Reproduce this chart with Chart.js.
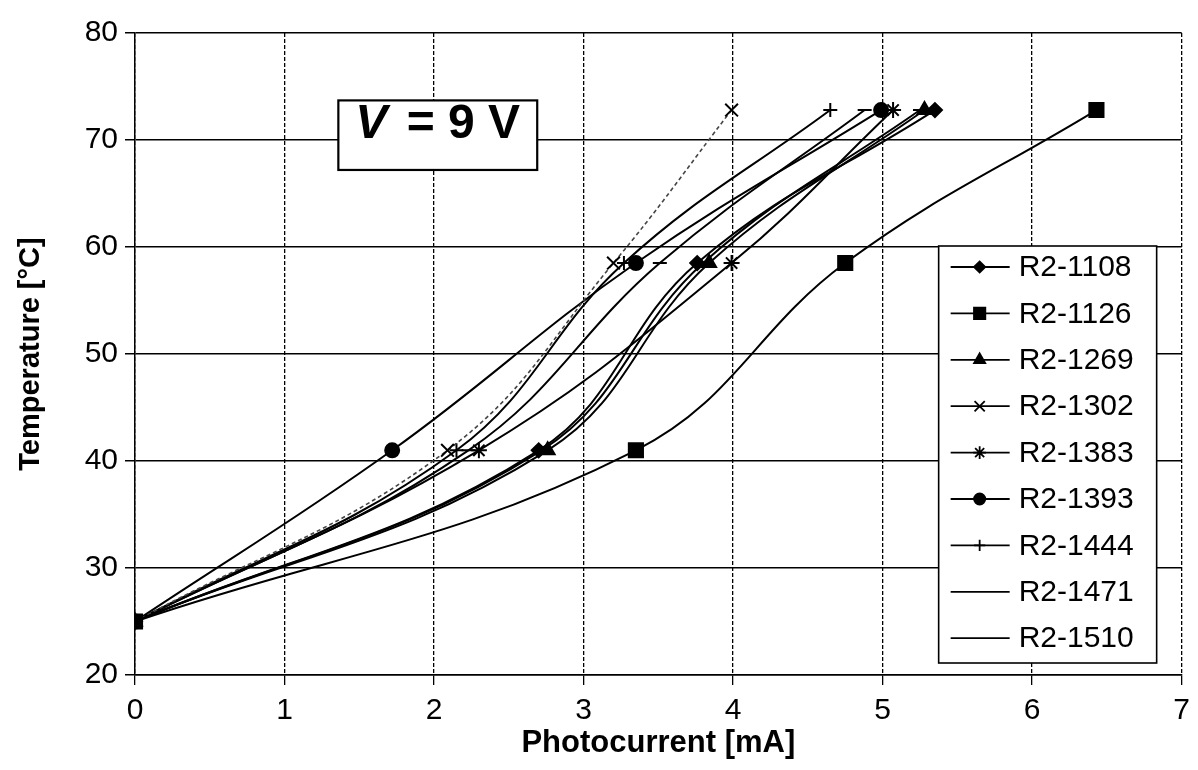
<!DOCTYPE html>
<html>
<head>
<meta charset="utf-8">
<script src="https://cdn.jsdelivr.net/npm/chart.js@4.4.0/dist/chart.umd.min.js"></script>
<style>
  html, body { margin: 0; padding: 0; background: #fff; }
  #wrap { width: 1198px; height: 770px; position: relative; }
</style>
</head>
<body>
<div id="wrap"><canvas id="tempChart" width="1198" height="770"></canvas></div>
<script>
// temperatures are the same for every sample
var temps = [25, 41, 58.5, 72.8];

// photocurrent [mA] per sample
var r1108 = [0, 2.70, 3.76, 5.35];
var r1126 = [0, 3.35, 4.75, 6.43];
var r1269 = [0, 2.76, 3.84, 5.28];
var r1302 = [0, 2.09, 3.20, 3.99];
var r1383 = [0, 2.30, 3.99, 5.07];
var r1393 = [0, 1.72, 3.35, 4.99];
var r1444 = [0, 2.15, 3.27, 4.65];
var r1471 = [0, 2.23, 3.51, 4.88];
var r1510 = [0, 2.72, 3.80, 5.25];

var names = ['R2-1108', 'R2-1126', 'R2-1269', 'R2-1302', 'R2-1383', 'R2-1393', 'R2-1444', 'R2-1471', 'R2-1510'];
var currents = [r1108, r1126, r1269, r1302, r1383, r1393, r1444, r1471, r1510];
var markers = ['rectRot', 'rect', 'triangle', 'crossRot', 'star', 'circle', 'cross', 'line', 'line'];
var markerSize = [7, 10, 8, 9, 8, 7, 7, 7, 7];

var xTicks = [0, 1, 2, 3, 4, 5, 6, 7];
var yTicks = [20, 30, 40, 50, 60, 70, 80];

function toPoints(xs) {
    return xs.map((x, i) => ({ x: x, y: temps[i] }));
}

var datasets = names.map(function (name, i) {
    var dotted = name === 'R2-1302';
    return {
        label: name,
        data: toPoints(currents[i]),
        borderColor: dotted ? '#444' : '#000',
        borderWidth: dotted ? 1.6 : 2,
        borderDash: dotted ? [4, 3] : [],
        backgroundColor: '#000',
        pointStyle: markers[i],
        pointRadius: markerSize[i],
        pointBackgroundColor: '#000',
        pointBorderColor: '#000',
        pointBorderWidth: 2,
        tension: 0.4,
        fill: false
    };
});

var fontFam = '"Liberation Sans", Arial, sans-serif';

// box with "V = 9 V" anchored in data coordinates
var voltBox = {
    id: 'voltBox',
    afterDatasetsDraw: function (chart) {
        var c = chart.ctx, xs = chart.scales.x, ys = chart.scales.y;
        var l = xs.getPixelForValue(1.36), r = xs.getPixelForValue(2.69);
        var t = ys.getPixelForValue(73.7), b = ys.getPixelForValue(67.2);
        c.save();
        c.fillStyle = '#fff';
        c.fillRect(l, t, r - l, b - t);
        c.strokeStyle = '#000';
        c.lineWidth = 2.2;
        c.strokeRect(l, t, r - l, b - t);
        c.fillStyle = '#000';
        c.textBaseline = 'alphabetic';
        c.font = 'italic bold 48px ' + fontFam;
        var base = t + 38;
        var x0 = l + 17;
        c.fillText('V', x0, base);
        var w = c.measureText('V').width;
        c.font = 'bold 48px ' + fontFam;
        c.fillText(' = 9 V', x0 + w + 6, base);
        c.restore();
    }
};

// legend box drawn inside the plot, on the right
var boxLegend = {
    id: 'boxLegend',
    afterDraw: function (chart) {
        var c = chart.ctx, area = chart.chartArea;
        var l = area.right - 243, r = area.right - 25;
        var t = area.top + 213, b = area.top + 630;
        c.save();
        c.fillStyle = '#fff';
        c.fillRect(l, t, r - l, b - t);
        c.strokeStyle = '#000';
        c.lineWidth = 1.6;
        c.strokeRect(l, t, r - l, b - t);
        c.font = '30px ' + fontFam;
        c.textBaseline = 'middle';
        chart.data.datasets.forEach(function (ds, i) {
            var y = t + 21 + i * 46.4;
            c.strokeStyle = '#000';
            c.lineWidth = 1.8;
            c.setLineDash([]);
            c.beginPath();
            c.moveTo(l + 12, y);
            c.lineTo(l + 71, y);
            c.stroke();
            c.fillStyle = '#000';
            if (Chart.helpers && Chart.helpers.drawPoint && ds.pointStyle !== 'line') {
                Chart.helpers.drawPoint(c, {
                    pointStyle: ds.pointStyle,
                    rotation: 0,
                    radius: ds.pointRadius * 0.8,
                    borderWidth: 1.8
                }, l + 41, y);
            }
            c.fillStyle = '#000';
            c.fillText(ds.label, l + 80, y + 1);
        });
        c.restore();
    }
};

var ctx = document.getElementById('tempChart').getContext('2d');
var tempChart = new Chart(ctx, {
    type: 'line',
    data: { datasets: datasets },
    plugins: [voltBox, boxLegend],
    options: {
        responsive: false,
        animation: false,
        layout: { padding: { top: 33, right: 13, left: 10, bottom: 8 } },
        plugins: {
            legend: { display: false },
            tooltip: { enabled: false }
        },
        scales: {
            x: {
                type: 'linear',
                min: 0,
                max: 7,
                afterFit: function (s) { s.height = 87; },
                afterBuildTicks: function (s) { s.ticks = xTicks.map(v => ({ value: v })); },
                ticks: {
                    color: '#000',
                    padding: 8,
                    font: { family: fontFam, size: 30 }
                },
                grid: {
                    color: '#000',
                    lineWidth: 1.3,
                    tickLength: 10,
                    tickColor: '#000'
                },
                border: { color: '#000', width: 1.5, dash: [4, 2] },
                title: {
                    display: true,
                    text: 'Photocurrent [mA]',
                    color: '#000',
                    padding: 0,
                    font: { family: fontFam, size: 31, weight: 'bold' }
                }
            },
            y: {
                type: 'linear',
                min: 20,
                max: 80,
                afterFit: function (s) { s.width = 125; },
                afterBuildTicks: function (s) { s.ticks = yTicks.map(v => ({ value: v })); },
                ticks: {
                    color: '#000',
                    padding: 7,
                    font: { family: fontFam, size: 30 }
                },
                grid: {
                    color: '#000',
                    lineWidth: 1.5,
                    tickLength: 10,
                    tickColor: '#000'
                },
                border: { color: '#000', width: 1.5 },
                title: {
                    display: true,
                    text: 'Temperature [°C]',
                    color: '#000',
                    padding: { top: 4, bottom: 0 },
                    font: { family: fontFam, size: 29, weight: 'bold' }
                }
            }
        }
    }
});
</script>
</body>
</html>
